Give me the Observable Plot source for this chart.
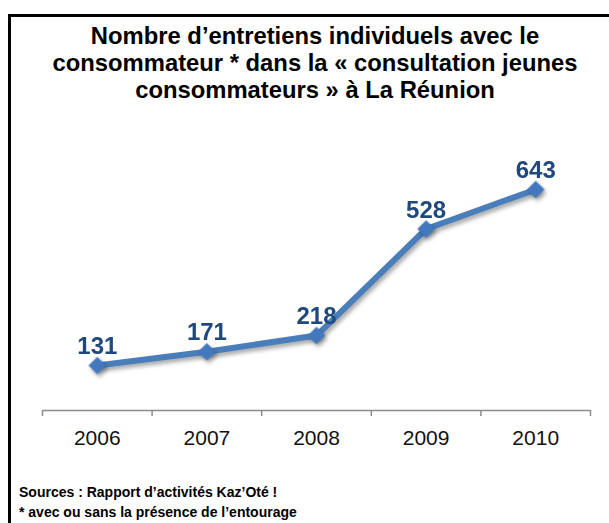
<!DOCTYPE html>
<html>
<head>
<meta charset="utf-8">
<script src="https://cdn.jsdelivr.net/npm/d3@7"></script>
<script src="https://cdn.jsdelivr.net/npm/@observablehq/plot@0.6"></script>
<style>
  html, body { margin: 0; padding: 0; background: #fff; }
  body { width: 609px; height: 523px; position: relative; overflow: hidden; font-family: "Liberation Sans", Arial, sans-serif; }
  #frame { position: absolute; left: 8px; top: 14px; width: 620px; height: 600px; border-left: 3px solid #000; border-top: 3px solid #000; }
  #title { position: absolute; left: 0; width: 630px; top: 22px; text-align: center; font-weight: bold; font-size: 23.8px; line-height: 27px; color: #000; }
  #chart { position: absolute; left: 0; top: 122px; }
  #foot { position: absolute; left: 19px; top: 482px; font-weight: bold; font-size: 14px; line-height: 20px; color: #000; }
  #chart svg g[aria-label="line"], #chart svg g[aria-label="dot"] { filter: drop-shadow(2px 3px 2px rgba(0,0,0,0.35)); }
</style>
</head>
<body>
<div id="frame"></div>
<div id="title">Nombre d’entretiens individuels avec le<br>consommateur * dans la « consultation jeunes<br>consommateurs » à La Réunion</div>
<div id="chart"></div>
<div id="foot">Sources : Rapport d’activités Kaz’Oté !<br>* avec ou sans la présence de l’entourage</div>
<script>
const years = [2006, 2007, 2008, 2009, 2010];
const values = [131, 171, 218, 528, 643];

const data = years.map((year, i) => ({year, value: values[i]}));
const bounds = years.map(y => y - 0.5).concat([years[years.length - 1] + 0.5]);

const plot = Plot.plot({
  width: 609,
  height: 330,
  marginLeft: 42,
  marginRight: 19,
  marginTop: 13,
  marginBottom: 42,
  style: { fontFamily: "'Liberation Sans', Arial, sans-serif", background: "transparent", overflow: "visible" },
  x: { type: "linear", domain: [bounds[0], bounds[bounds.length - 1]], label: null },
  y: { domain: [0, 800], axis: null, label: null },
  marks: [
    Plot.ruleY([0], { stroke: "#8c8c8c", strokeWidth: 1.5 }),
    Plot.axisX(bounds, { tickSize: 6, tickFormat: () => "", stroke: "#8c8c8c", strokeWidth: 1.5, label: null }),
    Plot.axisX(years, { tickSize: 0, tickPadding: 20, tickFormat: d => String(d), fontSize: 21, fill: "#111", label: null }),
    Plot.line(data, { x: "year", y: "value", stroke: "#4A7EBB", strokeWidth: 6, strokeLinejoin: "round" }),
    Plot.dot(data, { x: "year", y: "value", symbol: "square", r: 7, rotate: 45, fill: "#4178BE", stroke: null }),
    Plot.text(data, { x: "year", y: "value", text: d => String(d.value), dy: -19, fill: "#1F497D", fontSize: 24, fontWeight: "bold" })
  ]
});
document.getElementById("chart").appendChild(plot);
</script>
</body>
</html>
